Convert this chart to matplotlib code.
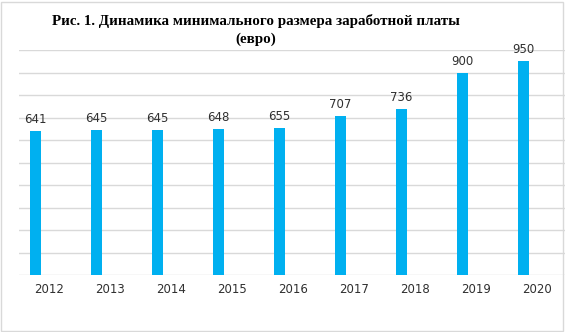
import numpy as np
import matplotlib.pyplot as plt

# ----------------------------
# Data
# ----------------------------
years = ["2012", "2013", "2014", "2015", "2016", "2017", "2018", "2019", "2020"]
wages = [641, 645, 645, 648, 655, 707, 736, 900, 950]

# ----------------------------
# Plot
# ----------------------------
W, H = 565, 332
fig = plt.figure(figsize=(W / 100, H / 100), dpi=100)

# plot area in pixels: left edge, baseline, top (1000), right edge
left, bottom, top, right = 18.5, 275, 50, 565
ax = fig.add_axes([left / W, 1 - bottom / H, (right - left) / W, (bottom - top) / H])

x = np.arange(len(years))
offset = -13.5 / 61
bars = ax.bar(x + offset, wages, width=11 / 61, color="#00B0F0", zorder=3)

for xi, v in zip(x, wages):
    ax.text(xi + offset, v + 22, str(v), ha="center", va="bottom", fontsize=8.5,
            color="#303030", family="DejaVu Sans")

ax.set_ylim(0, 1000)
ax.set_xlim(-0.5, -0.5 + (right - left) / 61)
ax.set_yticks(np.arange(0, 1001, 100))
ax.yaxis.grid(True, color="#D9D9D9", linewidth=1)
ax.set_yticklabels([])
ax.tick_params(axis="y", length=0)
ax.set_xticks(x)
ax.set_xticklabels(years, fontsize=8.5, color="#303030", family="DejaVu Sans")
ax.tick_params(axis="x", length=0, pad=6)
for s in ax.spines.values():
    s.set_visible(False)

fig.text(256 / W, 1 - 21 / H, "Рис. 1. Динамика минимального размера заработной платы",
         ha="center", va="center", fontsize=10.8, fontweight="bold", family="Liberation Serif")
fig.text(256 / W, 1 - 39 / H, "(евро)", ha="center", va="center", fontsize=10.8,
         fontweight="bold", family="Liberation Serif")

# light chart border
fig.patches.append(plt.Rectangle((1 / W, 1 / H), (W - 3) / W, (H - 3) / H, transform=fig.transFigure,
                                 fill=False, edgecolor="#D9D9D9", linewidth=1))

plt.savefig("out.png", dpi=100)
